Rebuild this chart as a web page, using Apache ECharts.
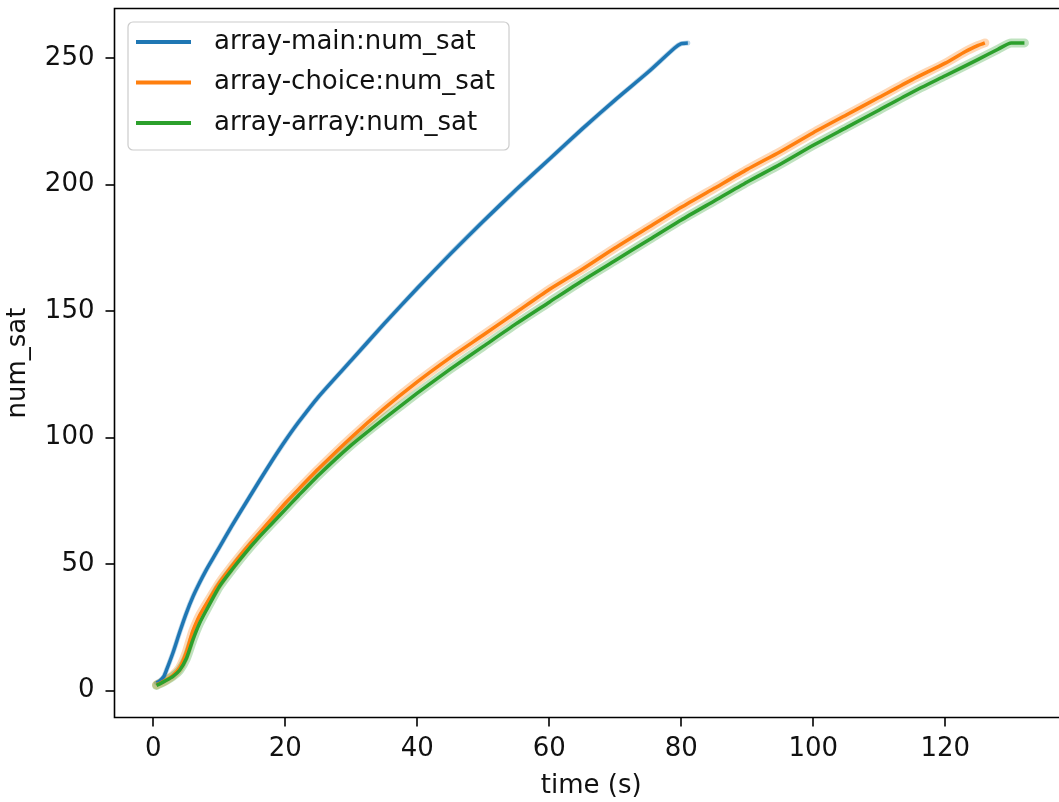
<!DOCTYPE html>
<html>
<head>
<meta charset="utf-8">
<title>num_sat over time</title>
<script src="https://cdn.jsdelivr.net/npm/echarts@6/dist/echarts.min.js"></script>
<style>
  html, body { margin: 0; padding: 0; background: #ffffff; }
  #chart { width: 1059px; height: 802px; }
</style>
</head>
<body>
<div id="chart"></div>
<script>
// Tick positions on both axes
const xTicks = [0, 20, 40, 60, 80, 100, 120];
const yTicks = [0, 50, 100, 150, 200, 250];

// array-main: elapsed time (s) and satisfied count
const mainTime = [0.5, 1, 1.6, 2, 3, 4, 5, 6, 7, 8, 9, 10, 12, 14, 16, 18, 20, 22, 25, 30, 35, 40, 45, 50, 55, 60, 65, 70, 75, 79, 80, 81];
const mainSat  = [3, 3.8, 5.5, 8, 15, 23, 30.5, 37, 42.5, 47.5, 52, 56.5, 65.5, 74, 82.5, 90.8, 98.7, 106, 116, 130.5, 145, 159, 172.5, 185.5, 198, 210, 222, 233.5, 244.5, 254, 255.7, 256];

// array-choice
const choiceTime = [0.5, 1, 2, 3, 4, 5, 5.7, 6, 7, 8, 10, 12, 14, 16, 18, 20, 22, 25, 30, 35, 40, 45, 50, 55, 60, 65, 70, 75, 80, 85, 90, 95, 100, 105, 110, 115, 120, 123, 125, 126];
const choiceSat  = [2.2, 2.8, 4.2, 6, 9, 15, 21, 23.5, 29.5, 34, 42.5, 49.5, 56, 62, 68, 74, 79.5, 87.5, 100, 111.5, 122, 131.6, 140.5, 149.5, 158.5, 166.5, 175, 183, 191, 198.5, 206, 213, 220.5, 227.5, 234.5, 241.5, 248, 252.5, 255, 256];

// array-array
const arrayTime = [0.5, 1, 2, 3, 4, 5, 6, 7, 8, 10, 12, 14, 16, 18, 20, 22, 25, 30, 35, 40, 45, 50, 55, 60, 65, 70, 75, 80, 85, 90, 95, 100, 105, 110, 115, 120, 125, 128, 130, 132];
const arraySat  = [2, 2.6, 4, 5.6, 8, 12.5, 20, 26.5, 31.5, 41, 48, 54.5, 60.5, 66, 71.5, 77, 85, 97, 107.5, 117.5, 127, 136, 145, 153.5, 162, 170, 178, 186, 193.5, 201, 208, 215.5, 222.5, 229.5, 236.5, 243, 249.5, 253.5, 256, 256];

const seriesNames = ['array-main:num_sat', 'array-choice:num_sat', 'array-array:num_sat'];
const colors = ['#1f77b4', '#ff7f0e', '#2ca02c'];

const pairs = (xs, ys) => xs.map((x, i) => [x, ys[i]]);
const runs = [
  { name: seriesNames[0], data: pairs(mainTime, mainSat), color: colors[0], band: 5 },
  { name: seriesNames[1], data: pairs(choiceTime, choiceSat), color: colors[1], band: 9 },
  { name: seriesNames[2], data: pairs(arrayTime, arraySat), color: colors[2], band: 9 }
];

const FONT = 'DejaVu Sans';
const series = [];
runs.forEach((r) => {
  // translucent spread band under each mean line
  series.push({
    name: r.name + ' band',
    type: 'line',
    data: r.data,
    showSymbol: false,
    silent: true,
    smooth: 0.2,
    lineStyle: { color: r.color, width: r.band, opacity: 0.3, cap: 'round', join: 'round' },
    z: 2
  });
  series.push({
    name: r.name,
    type: 'line',
    data: r.data,
    showSymbol: false,
    smooth: 0.2,
    color: r.color,
    lineStyle: { color: r.color, width: 3.5, cap: 'butt', join: 'round' },
    z: 3
  });
});

const chart = echarts.init(document.getElementById('chart'), null, { renderer: 'canvas' });
chart.setOption({
  animation: false,
  backgroundColor: '#ffffff',
  textStyle: { fontFamily: FONT },
  grid: {
    left: 114.5,
    top: 8.5,
    width: 953.5,
    height: 709,
    outerBoundsMode: 'none',
    containLabel: false,
    show: true,
    borderColor: '#000000',
    borderWidth: 1.6,
    backgroundColor: 'transparent'
  },
  legend: {
    data: seriesNames,
    orient: 'vertical',
    left: 128,
    top: 22,
    padding: [5, 14, 12, 8],
    itemGap: 10.5,
    itemWidth: 55,
    itemHeight: 4,
    icon: 'rect',
    backgroundColor: 'rgba(255,255,255,0.8)',
    borderColor: '#cccccc',
    borderWidth: 1.2,
    borderRadius: 5,
    selectedMode: false,
    textStyle: {
      fontFamily: FONT,
      fontSize: 26,
      color: '#111111',
      lineHeight: 30,
      padding: [0, 0, 0, 18]
    }
  },
  xAxis: {
    type: 'value',
    min: -5.87,
    max: 138.6,
    name: 'time (s)',
    nameLocation: 'middle',
    nameGap: 56,
    nameTextStyle: { fontFamily: FONT, fontSize: 26, color: '#111111' },
    axisLine: { show: false, onZero: false },
    axisTick: {
      show: true,
      length: 9,
      customValues: xTicks,
      lineStyle: { color: '#000000', width: 1.6 }
    },
    axisLabel: {
      customValues: xTicks,
      margin: 18.5,
      fontFamily: FONT,
      fontSize: 26,
      color: '#111111'
    },
    splitLine: { show: false }
  },
  yAxis: {
    type: 'value',
    min: -10.7,
    max: 269.6,
    name: 'num_sat',
    nameLocation: 'middle',
    nameGap: 83,
    nameTextStyle: { fontFamily: FONT, fontSize: 26, color: '#111111' },
    axisLine: { show: false, onZero: false },
    axisTick: {
      show: true,
      length: 9,
      customValues: yTicks,
      lineStyle: { color: '#000000', width: 1.6 }
    },
    axisLabel: {
      customValues: yTicks,
      margin: 20,
      fontFamily: FONT,
      fontSize: 26,
      color: '#111111'
    },
    splitLine: { show: false }
  },
  series: series
});
</script>
</body>
</html>
